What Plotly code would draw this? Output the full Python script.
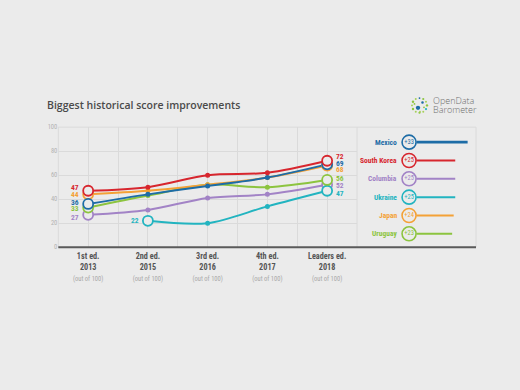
import math
import plotly.graph_objects as go

# ---------------- data ----------------
editions = ["1st ed.", "2nd ed.", "3rd ed.", "4th ed.", "Leaders ed."]
years = ["2013", "2015", "2016", "2017", "2018"]
countries = ["Mexico", "South Korea", "Columbia", "Ukraine", "Japan", "Uruguay"]
mexico = [36, 44, 51, 58, 69]
south_korea = [47, 50, 60, 62, 72]
columbia = [27, 31, 41, 44, 52]
ukraine = [None, 22, 20, 34, 47]
japan = [44, 47, 52, 58, 68]
uruguay = [33, 43, 52, 50, 56]
improvement = [33, 25, 25, 25, 24, 23]
y_ticks = [0, 20, 40, 60, 80, 100]

series = {
    "Mexico": mexico,
    "South Korea": south_korea,
    "Columbia": columbia,
    "Ukraine": ukraine,
    "Japan": japan,
    "Uruguay": uruguay,
}

# ---------------- styles ----------------
colors = {
    "Mexico": "#1d6ca6",
    "South Korea": "#d7262e",
    "Columbia": "#a283c6",
    "Ukraine": "#22b4c0",
    "Japan": "#f4a136",
    "Uruguay": "#8cc43f",
}
BG = "#ebebeb"
GRID = "#dadada"
COND = "Roboto Condensed, Liberation Sans Narrow, sans-serif"
start_shift = {"Mexico": 1, "South Korea": 3, "Columbia": -3, "Ukraine": 0, "Japan": 0, "Uruguay": -1}
end_shift = {"Mexico": 1, "South Korea": 4, "Columbia": -1, "Ukraine": -2.5, "Japan": -4, "Uruguay": 1}
draw_order = ["Columbia", "Ukraine", "Uruguay", "Japan", "Mexico", "South Korea"]

X0, X1, X2 = 58.3, 357, 476
YT, YB = 125.7, 248.3
def px(x):
    return x / 520
def py(y):
    return 1 - y / 390

fig = go.Figure()
xs = list(range(len(editions)))

for name in draw_order:
    fig.add_trace(go.Scatter(
        x=xs, y=series[name], mode="lines+markers",
        line=dict(color=colors[name], width=2, shape="spline", smoothing=0.9),
        marker=dict(size=5, color=colors[name]),
        connectgaps=False, hoverinfo="skip", showlegend=False,
    ))

annotations = []
for name in draw_order:
    vals = series[name]
    idx = [i for i, v in enumerate(vals) if v is not None]
    first, last = idx[0], idx[-1]
    fig.add_trace(go.Scatter(
        x=[first, last], y=[vals[first], vals[last]], mode="markers",
        marker=dict(size=10, color=BG, line=dict(color=colors[name], width=1.8)),
        hoverinfo="skip", showlegend=False,
    ))
    annotations.append(dict(
        x=first, y=vals[first], xref="x", yref="y", text="<b>%d</b>" % vals[first],
        showarrow=False, xanchor="right", yanchor="middle", xshift=-7, yshift=start_shift[name],
        font=dict(family=COND, size=7.5, color=colors[name]),
    ))
    annotations.append(dict(
        x=last, y=vals[last], xref="x", yref="y", text="<b>%d</b>" % vals[last],
        showarrow=False, xanchor="left", yanchor="middle", xshift=7, yshift=end_shift[name],
        font=dict(family=COND, size=7.5, color=colors[name]),
    ))

# legend panel on a second axis: line length = improvement
CIRCLE_X = -4.8
NAME_X = -11.6
for name, imp in zip(countries, improvement):
    fig.add_trace(go.Scatter(
        x=[0, imp], y=[name, name], xaxis="x2", yaxis="y2", mode="lines",
        line=dict(color=colors[name], width=2.6 if name == "Mexico" else 2),
        hoverinfo="skip", showlegend=False,
    ))
    fig.add_trace(go.Scatter(
        x=[CIRCLE_X], y=[name], xaxis="x2", yaxis="y2", mode="markers+text",
        marker=dict(size=14, color=BG, line=dict(color=colors[name], width=1.6)),
        text=["+%d" % imp], textposition="middle center",
        textfont=dict(family=COND, size=6.5, color=colors[name]),
        hoverinfo="skip", showlegend=False,
    ))
    annotations.append(dict(
        x=NAME_X, y=name, xref="x2", yref="y2", text="<b>%s</b>" % name,
        showarrow=False, xanchor="right", yanchor="middle",
        font=dict(family=COND, size=7.5, color=colors[name]),
    ))

ticktext = ["<b>%s<br>%s</b><br><span style='font-size:6.5px;color:#a8a8a8;font-weight:normal'>(out of 100)</span>" % (e, y)
            for e, y in zip(editions, years)]

annotations.append(dict(
    x=px(44.5), y=py(103.5), xref="paper", yref="paper", text="Biggest historical score improvements",
    showarrow=False, xanchor="left", yanchor="middle",
    font=dict(family="Open Sans", size=10.5, color="#4a4a4a", weight=600),
))
for txt, yy in [("OpenData", 99), ("Barometer", 108)]:
    annotations.append(dict(
        x=px(431), y=py(yy), xref="paper", yref="paper", text=txt,
        showarrow=False, xanchor="left", yanchor="middle",
        font=dict(family="Open Sans", size=9, color="#6e6e6e", weight=300),
    ))

shapes = []
for (xa, ya, xb, yb) in [(X0, YT, X2, YT), (X0, YT, X0, YB), (X1, YT, X1, YB), (X2, YT, X2, YB)]:
    shapes.append(dict(type="line", xref="paper", yref="paper", x0=px(xa), y0=py(ya), x1=px(xb), y1=py(yb),
                       line=dict(color=GRID, width=1), layer="below"))
shapes.append(dict(type="line", xref="paper", yref="paper", x0=px(X0), y0=py(YB), x1=px(X2), y1=py(YB),
                   line=dict(color="#5a5a5a", width=2)))
# logo icon (decorative dots)
cx, cy = 419.5, 103.5
ring = [(0, 1.2, "#8cc43f"), (30, 1.0, "#a6d15a"), (60, 1.1, "#8cc43f"), (90, 0.9, "#1d6ca6"),
        (120, 1.0, "#a6d15a"), (150, 1.2, "#8cc43f"), (180, 1.0, "#a6d15a"), (210, 1.2, "#8cc43f"),
        (240, 1.0, "#a6d15a"), (270, 1.1, "#8cc43f"), (300, 1.0, "#a6d15a"), (330, 1.1, "#22b4c0")]
for ang, r, c in ring:
    x = cx + 7.5 * math.cos(math.radians(ang))
    y = cy - 7.5 * math.sin(math.radians(ang))
    shapes.append(dict(type="circle", xref="paper", yref="paper", x0=px(x - r), x1=px(x + r),
                       y0=py(y + r), y1=py(y - r), fillcolor=c, line=dict(width=0)))
for (x, y, r, c) in [(418, 106, 2.2, "#1d6ca6"), (422.5, 100.5, 1.3, "#1d6ca6"), (414.5, 102, 0.9, "#8cc43f"),
                     (420, 110, 0.9, "#a6d15a"), (424, 105.5, 0.9, "#8cc43f")]:
    shapes.append(dict(type="circle", xref="paper", yref="paper", x0=px(x - r), x1=px(x + r),
                       y0=py(y + r), y1=py(y - r), fillcolor=c, line=dict(width=0)))

fig.update_layout(
    width=520, height=390,
    margin=dict(l=0, r=0, t=0, b=0),
    paper_bgcolor=BG, plot_bgcolor=BG,
    showlegend=False,
    xaxis=dict(domain=[px(X0), px(X1)], range=[-0.5, 4.5], tickvals=xs, ticktext=ticktext,
               showgrid=True, gridcolor=GRID, gridwidth=1, zeroline=False, showline=False, ticks="",
               ticklabelstandoff=3,
               minor=dict(tickvals=[0.5, 1.5, 2.5, 3.5], showgrid=True, gridcolor=GRID, gridwidth=1),
               tickfont=dict(family=COND, size=8.2, color="#555555"), fixedrange=True),
    yaxis=dict(domain=[py(YB), py(YT)], range=[0, 100], tickvals=y_ticks,
               showgrid=True, gridcolor=GRID, gridwidth=1, zeroline=False, showline=False, ticks="",
               tickfont=dict(family=COND, size=6.5, color="#b2b2b2"), fixedrange=True),
    xaxis2=dict(domain=[px(X1), px(X2)], range=[-38.4, 38.4], visible=False, fixedrange=True),
    yaxis2=dict(domain=[py(YB), py(YT)], type="category", categoryorder="array", categoryarray=countries,
                range=[5.73, -0.82], visible=False, anchor="x2", fixedrange=True),
    annotations=annotations,
    shapes=shapes,
)

fig.write_html("out.html", config={"displayModeBar": False},
               post_script="document.body.style.margin='0';document.body.style.background='#ebebeb';")
